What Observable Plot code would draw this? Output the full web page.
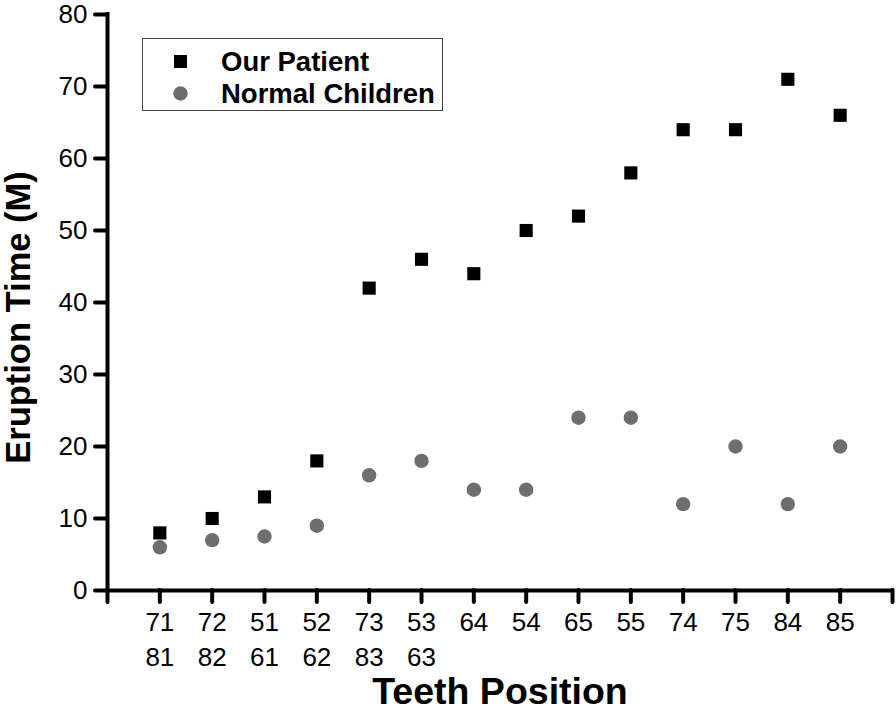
<!DOCTYPE html>
<html>
<head>
<meta charset="utf-8">
<script src="https://cdn.jsdelivr.net/npm/d3@7"></script>
<script src="https://cdn.jsdelivr.net/npm/@observablehq/plot@0.6"></script>
<style>
  body { margin: 0; background: #fff; }
  #wrap { position: relative; width: 896px; height: 710px; font-family: "Liberation Sans", Arial, sans-serif; }
  #wrap svg [aria-label="x-axis tick"], #wrap svg [aria-label="y-axis tick"] { stroke-width: 4px; stroke-linecap: round; }
  #legend { position: absolute; left: 142px; top: 38px; width: 301px; height: 73px; border: 1.5px solid #444; box-sizing: border-box; background: #fff; }
  .item { position: absolute; left: 0; display: flex; align-items: center; font-weight: bold; font-size: 27.5px; color: #000; line-height: 1; }
  .sw { display: inline-block; width: 15px; height: 15px; margin-left: 30px; margin-right: 33px; }
  .sw svg { display: block; }
</style>
</head>
<body>
<div id="wrap"></div>
<script>
const categories = ["71\n81", "72\n82", "51\n61", "52\n62", "73\n83", "53\n63", "64", "54", "65", "55", "74", "75", "84", "85"];
const patient = [8, 10, 13, 18, 42, 46, 44, 50, 52, 58, 64, 64, 71, 66];
const normal = [6, 7, 7.5, 9, 16, 18, 14, 14, 24, 24, 12, 20, 12, 20];
const yTicks = [0, 10, 20, 30, 40, 50, 60, 70, 80];
const seriesNames = ["Our Patient", "Normal Children"];
const xTitle = "Teeth Position";
const yTitle = "Eruption Time (M)";

const pos = categories.map((c, i) => i + 1);
const patientData = categories.map((c, i) => ({ x: pos[i], y: patient[i] }));
const normalData = categories.map((c, i) => ({ x: pos[i], y: normal[i] }));

const chart = Plot.plot({
  width: 896,
  height: 710,
  marginLeft: 107,
  marginRight: 4,
  marginTop: 14,
  marginBottom: 120,
  x: { domain: [0, categories.length + 1] },
  y: { domain: [0, 80] },
  style: { fontFamily: "'Liberation Sans', Arial, sans-serif", color: "#000", background: "#fff", overflow: "visible" },
  marks: [
    Plot.axisY({ ticks: yTicks, tickSize: 12, tickPadding: 8, strokeWidth: 4, fontSize: 26, label: null }),
    Plot.axisX({ ticks: d3.range(0, categories.length + 2), tickSize: 12, tickPadding: 4, strokeWidth: 4, fontSize: 26, lineHeight: 1.33, lineAnchor: "top", tickFormat: (i) => categories[i - 1] ?? "", label: null }),
    Plot.ruleY([0], { strokeWidth: 4, strokeLinecap: "square" }),
    Plot.ruleX([0], { strokeWidth: 4, strokeLinecap: "square" }),
    Plot.dot(normalData, { x: "x", y: "y", symbol: "circle", r: 7.2, fill: "#6e6e6e" }),
    Plot.dot(patientData, { x: "x", y: "y", symbol: "square", r: 7.4, fill: "#000" }),
    Plot.text([xTitle], { frameAnchor: "bottom", textAnchor: "middle", dy: 113, fontSize: 37.5, fontWeight: "bold", text: (d) => d }),
    Plot.text([yTitle], { frameAnchor: "left", textAnchor: "middle", rotate: -90, dx: -89, dy: 15, fontSize: 34.5, fontWeight: "bold", text: (d) => d })
  ]
});
document.getElementById("wrap").appendChild(chart);

const legend = document.createElement("div");
legend.id = "legend";
const symbols = [
  '<svg width="15" height="15"><rect x="1" y="1" width="13" height="13" fill="#000"/></svg>',
  '<svg width="15" height="15"><circle cx="7.5" cy="7.5" r="7.2" fill="#6e6e6e"/></svg>'
];
seriesNames.forEach((name, i) => {
  const it = document.createElement("div");
  it.className = "item";
  it.style.top = (i === 0 ? 9 : 41) + "px";
  it.innerHTML = '<span class="sw">' + symbols[i] + '</span><span>' + name + '</span>';
  legend.appendChild(it);
});
document.getElementById("wrap").appendChild(legend);
</script>
</body>
</html>
